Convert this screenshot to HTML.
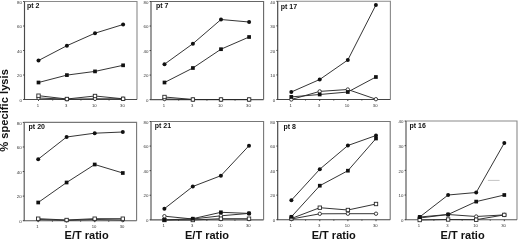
<!DOCTYPE html>
<html><head><meta charset="utf-8"><style>
html,body{margin:0;padding:0;background:#fff;}
body{width:520px;height:241px;overflow:hidden;}
svg{display:block;will-change:transform;}
text{font-family:"Liberation Sans",sans-serif;}
.box{fill:none;stroke-width:1.1;}
.ax{fill:none;stroke-width:1.15;}
.tk{fill:none;stroke:#333;stroke-width:0.9;}
.yl{font-size:4.4px;fill:#333;text-anchor:end;}
.xl{font-size:4.2px;fill:#333;text-anchor:middle;}
.ln{fill:none;stroke:#2a2a2a;stroke-width:0.95;}
.fc{fill:#111;}
.fs{fill:#111;}
.oc{fill:#fff;stroke:#2a2a2a;stroke-width:0.9;}
.os{fill:#fff;stroke:#2a2a2a;stroke-width:0.9;}
.tt{font-size:7px;font-weight:bold;fill:#111;}
.et{font-size:11px;font-weight:bold;fill:#111;}
.yt{font-size:11.2px;font-weight:bold;fill:#111;}
</style></head><body>
<svg width="520" height="241" viewBox="0 0 520 241">
<path d="M24.5 1.5H137V99.5" class="box" stroke="#8a8a8a"/>
<path d="M24.5 1.5V99.5H137" class="ax" stroke="#4a4a4a"/>
<path d="M23.1 99.5H24.5" class="tk"/>
<text x="21.9" y="101.7" class="yl">0</text>
<path d="M23.1 75H24.5" class="tk"/>
<text x="21.9" y="77.2" class="yl">20</text>
<path d="M23.1 50.5H24.5" class="tk"/>
<text x="21.9" y="52.7" class="yl">40</text>
<path d="M23.1 26H24.5" class="tk"/>
<text x="21.9" y="28.2" class="yl">60</text>
<path d="M23.1 1.5H24.5" class="tk"/>
<text x="21.9" y="3.7" class="yl">80</text>
<path d="M38.5 99.5V101" class="tk"/>
<text x="37.8" y="107.1" class="xl">1</text>
<path d="M66.9 99.5V101" class="tk"/>
<text x="66.2" y="107.1" class="xl">3</text>
<path d="M95 99.5V101" class="tk"/>
<text x="94.3" y="107.1" class="xl">10</text>
<path d="M123.1 99.5V101" class="tk"/>
<text x="122.4" y="107.1" class="xl">30</text>
<path d="M52.7 99.5V100.5" class="tk"/>
<path d="M80.95 99.5V100.5" class="tk"/>
<path d="M109.05 99.5V100.5" class="tk"/>
<path d="M38.5 98 L66.9 99.2 L95 98.8 L123.1 98.8" class="ln"/>
<path d="M38.5 95.7 L66.9 99 L95 96 L123.1 98.8" class="ln"/>
<path d="M38.5 82.5 L66.9 75.1 L95 71.4 L123.1 65.3" class="ln"/>
<path d="M38.5 60.5 L66.9 45.7 L95 33.2 L123.1 24.5" class="ln"/>
<circle cx="38.5" cy="98" r="1.7" class="oc"/>
<circle cx="66.9" cy="99.2" r="1.7" class="oc"/>
<circle cx="95" cy="98.8" r="1.7" class="oc"/>
<circle cx="123.1" cy="98.8" r="1.7" class="oc"/>
<rect x="36.8" y="94" width="3.4" height="3.4" class="os"/>
<rect x="65.2" y="97.3" width="3.4" height="3.4" class="os"/>
<rect x="93.3" y="94.3" width="3.4" height="3.4" class="os"/>
<rect x="121.4" y="97.1" width="3.4" height="3.4" class="os"/>
<rect x="36.65" y="80.65" width="3.7" height="3.7" class="fs"/>
<rect x="65.05" y="73.25" width="3.7" height="3.7" class="fs"/>
<rect x="93.15" y="69.55" width="3.7" height="3.7" class="fs"/>
<rect x="121.25" y="63.45" width="3.7" height="3.7" class="fs"/>
<circle cx="38.5" cy="60.5" r="2.0" class="fc"/>
<circle cx="66.9" cy="45.7" r="2.0" class="fc"/>
<circle cx="95" cy="33.2" r="2.0" class="fc"/>
<circle cx="123.1" cy="24.5" r="2.0" class="fc"/>
<text x="26.9" y="8.4" class="tt">pt 2</text>
<path d="M151 1.5H263.6V99.6" class="box" stroke="#666"/>
<path d="M151 1.5V99.6H263.6" class="ax" stroke="#555"/>
<path d="M149.6 99.6H151" class="tk"/>
<text x="148.4" y="101.8" class="yl">0</text>
<path d="M149.6 75.07H151" class="tk"/>
<text x="148.4" y="77.27" class="yl">20</text>
<path d="M149.6 50.55H151" class="tk"/>
<text x="148.4" y="52.75" class="yl">40</text>
<path d="M149.6 26.02H151" class="tk"/>
<text x="148.4" y="28.22" class="yl">60</text>
<path d="M149.6 1.5H151" class="tk"/>
<text x="148.4" y="3.7" class="yl">80</text>
<path d="M164.5 99.6V101.1" class="tk"/>
<text x="163.8" y="107.2" class="xl">1</text>
<path d="M192.9 99.6V101.1" class="tk"/>
<text x="192.2" y="107.2" class="xl">3</text>
<path d="M221 99.6V101.1" class="tk"/>
<text x="220.3" y="107.2" class="xl">10</text>
<path d="M249.1 99.6V101.1" class="tk"/>
<text x="248.4" y="107.2" class="xl">30</text>
<path d="M178.7 99.6V100.6" class="tk"/>
<path d="M206.95 99.6V100.6" class="tk"/>
<path d="M235.05 99.6V100.6" class="tk"/>
<path d="M164.5 99 L192.9 99.5 L221 99.5 L249.1 99.5" class="ln"/>
<path d="M164.5 97 L192.9 99.5 L221 99.5 L249.1 99.5" class="ln"/>
<path d="M164.5 82.5 L192.9 68 L221 49.2 L249.1 37" class="ln"/>
<path d="M164.5 64.2 L192.9 43.7 L221 19.5 L249.1 22" class="ln"/>
<circle cx="164.5" cy="99" r="1.7" class="oc"/>
<circle cx="192.9" cy="99.5" r="1.7" class="oc"/>
<circle cx="221" cy="99.5" r="1.7" class="oc"/>
<circle cx="249.1" cy="99.5" r="1.7" class="oc"/>
<rect x="162.8" y="95.3" width="3.4" height="3.4" class="os"/>
<rect x="191.2" y="97.8" width="3.4" height="3.4" class="os"/>
<rect x="219.3" y="97.8" width="3.4" height="3.4" class="os"/>
<rect x="247.4" y="97.8" width="3.4" height="3.4" class="os"/>
<rect x="162.65" y="80.65" width="3.7" height="3.7" class="fs"/>
<rect x="191.05" y="66.15" width="3.7" height="3.7" class="fs"/>
<rect x="219.15" y="47.35" width="3.7" height="3.7" class="fs"/>
<rect x="247.25" y="35.15" width="3.7" height="3.7" class="fs"/>
<circle cx="164.5" cy="64.2" r="2.0" class="fc"/>
<circle cx="192.9" cy="43.7" r="2.0" class="fc"/>
<circle cx="221" cy="19.5" r="2.0" class="fc"/>
<circle cx="249.1" cy="22" r="2.0" class="fc"/>
<text x="155.9" y="8.2" class="tt">pt 7</text>
<path d="M277.7 1.3H390.4V99.5" class="box" stroke="#8a8a8a"/>
<path d="M277.7 1.3V99.5H390.4" class="ax" stroke="#444"/>
<path d="M276.3 99.5H277.7" class="tk"/>
<text x="275.1" y="101.7" class="yl">0</text>
<path d="M276.3 74.95H277.7" class="tk"/>
<text x="275.1" y="77.15" class="yl">10</text>
<path d="M276.3 50.4H277.7" class="tk"/>
<text x="275.1" y="52.6" class="yl">20</text>
<path d="M276.3 25.85H277.7" class="tk"/>
<text x="275.1" y="28.05" class="yl">30</text>
<path d="M276.3 1.3H277.7" class="tk"/>
<text x="275.1" y="3.5" class="yl">40</text>
<path d="M291.3 99.5V101" class="tk"/>
<text x="290.6" y="107.1" class="xl">1</text>
<path d="M319.7 99.5V101" class="tk"/>
<text x="319" y="107.1" class="xl">3</text>
<path d="M347.8 99.5V101" class="tk"/>
<text x="347.1" y="107.1" class="xl">10</text>
<path d="M375.9 99.5V101" class="tk"/>
<text x="375.2" y="107.1" class="xl">30</text>
<path d="M305.5 99.5V100.5" class="tk"/>
<path d="M333.75 99.5V100.5" class="tk"/>
<path d="M361.85 99.5V100.5" class="tk"/>
<path d="M291.3 99.5 L319.7 91.4 L347.8 89.5 L375.9 99.2" class="ln"/>
<path d="M291.3 96.9 L319.7 94.5 L347.8 92 L375.9 77" class="ln"/>
<path d="M291.3 92 L319.7 79.5 L347.8 60 L375.9 5" class="ln"/>
<circle cx="291.3" cy="99.5" r="1.7" class="oc"/>
<circle cx="319.7" cy="91.4" r="1.7" class="oc"/>
<circle cx="347.8" cy="89.5" r="1.7" class="oc"/>
<circle cx="375.9" cy="99.2" r="1.7" class="oc"/>
<rect x="289.45" y="95.05" width="3.7" height="3.7" class="fs"/>
<rect x="317.85" y="92.65" width="3.7" height="3.7" class="fs"/>
<rect x="345.95" y="90.15" width="3.7" height="3.7" class="fs"/>
<rect x="374.05" y="75.15" width="3.7" height="3.7" class="fs"/>
<circle cx="291.3" cy="92" r="2.0" class="fc"/>
<circle cx="319.7" cy="79.5" r="2.0" class="fc"/>
<circle cx="347.8" cy="60" r="2.0" class="fc"/>
<circle cx="375.9" cy="5" r="2.0" class="fc"/>
<text x="280.7" y="8.5" class="tt">pt 17</text>
<path d="M24.2 122.4H136.6V220.7" class="box" stroke="#777"/>
<path d="M24.2 122.4V220.7H136.6" class="ax" stroke="#555"/>
<path d="M22.8 220.7H24.2" class="tk"/>
<text x="21.6" y="222.9" class="yl">0</text>
<path d="M22.8 196.12H24.2" class="tk"/>
<text x="21.6" y="198.32" class="yl">20</text>
<path d="M22.8 171.55H24.2" class="tk"/>
<text x="21.6" y="173.75" class="yl">40</text>
<path d="M22.8 146.97H24.2" class="tk"/>
<text x="21.6" y="149.17" class="yl">60</text>
<path d="M22.8 122.4H24.2" class="tk"/>
<text x="21.6" y="124.6" class="yl">80</text>
<path d="M38.2 220.7V222.2" class="tk"/>
<text x="37.5" y="228.3" class="xl">1</text>
<path d="M66.6 220.7V222.2" class="tk"/>
<text x="65.9" y="228.3" class="xl">3</text>
<path d="M94.7 220.7V222.2" class="tk"/>
<text x="94" y="228.3" class="xl">10</text>
<path d="M122.8 220.7V222.2" class="tk"/>
<text x="122.1" y="228.3" class="xl">30</text>
<path d="M52.4 220.7V221.7" class="tk"/>
<path d="M80.65 220.7V221.7" class="tk"/>
<path d="M108.75 220.7V221.7" class="tk"/>
<path d="M38.2 219.5 L66.6 220.3 L94.7 219.5 L122.8 220" class="ln"/>
<path d="M38.2 218.7 L66.6 220 L94.7 218.7 L122.8 218.7" class="ln"/>
<path d="M38.2 202.5 L66.6 182.5 L94.7 164.5 L122.8 173" class="ln"/>
<path d="M38.2 159.2 L66.6 137 L94.7 133.2 L122.8 132" class="ln"/>
<circle cx="38.2" cy="219.5" r="1.7" class="oc"/>
<circle cx="66.6" cy="220.3" r="1.7" class="oc"/>
<circle cx="94.7" cy="219.5" r="1.7" class="oc"/>
<circle cx="122.8" cy="220" r="1.7" class="oc"/>
<rect x="36.5" y="217" width="3.4" height="3.4" class="os"/>
<rect x="64.9" y="218.3" width="3.4" height="3.4" class="os"/>
<rect x="93" y="217" width="3.4" height="3.4" class="os"/>
<rect x="121.1" y="217" width="3.4" height="3.4" class="os"/>
<rect x="36.35" y="200.65" width="3.7" height="3.7" class="fs"/>
<rect x="64.75" y="180.65" width="3.7" height="3.7" class="fs"/>
<rect x="92.85" y="162.65" width="3.7" height="3.7" class="fs"/>
<rect x="120.95" y="171.15" width="3.7" height="3.7" class="fs"/>
<circle cx="38.2" cy="159.2" r="2.0" class="fc"/>
<circle cx="66.6" cy="137" r="2.0" class="fc"/>
<circle cx="94.7" cy="133.2" r="2.0" class="fc"/>
<circle cx="122.8" cy="132" r="2.0" class="fc"/>
<text x="28.6" y="129" class="tt">pt 20</text>
<path d="M151 121.5H263.6V219.8" class="box" stroke="#777"/>
<path d="M151 121.5V219.8H263.6" class="ax" stroke="#555"/>
<path d="M149.6 219.8H151" class="tk"/>
<text x="148.4" y="222" class="yl">0</text>
<path d="M149.6 195.23H151" class="tk"/>
<text x="148.4" y="197.43" class="yl">20</text>
<path d="M149.6 170.65H151" class="tk"/>
<text x="148.4" y="172.85" class="yl">40</text>
<path d="M149.6 146.07H151" class="tk"/>
<text x="148.4" y="148.27" class="yl">60</text>
<path d="M149.6 121.5H151" class="tk"/>
<text x="148.4" y="123.7" class="yl">80</text>
<path d="M164.4 219.8V221.3" class="tk"/>
<text x="163.7" y="227.4" class="xl">1</text>
<path d="M192.8 219.8V221.3" class="tk"/>
<text x="192.1" y="227.4" class="xl">3</text>
<path d="M220.9 219.8V221.3" class="tk"/>
<text x="220.2" y="227.4" class="xl">10</text>
<path d="M249 219.8V221.3" class="tk"/>
<text x="248.3" y="227.4" class="xl">30</text>
<path d="M178.6 219.8V220.8" class="tk"/>
<path d="M206.85 219.8V220.8" class="tk"/>
<path d="M234.95 219.8V220.8" class="tk"/>
<path d="M164.4 216.2 L192.8 219 L220.9 215.8 L249 213.4" class="ln"/>
<path d="M164.4 220 L192.8 220 L220.9 218.7 L249 218.7" class="ln"/>
<path d="M164.4 220 L192.8 218.7 L220.9 212.3 L249 213.4" class="ln"/>
<path d="M164.4 208.7 L192.8 186.5 L220.9 175.7 L249 145.7" class="ln"/>
<circle cx="164.4" cy="216.2" r="1.7" class="oc"/>
<circle cx="192.8" cy="219" r="1.7" class="oc"/>
<circle cx="220.9" cy="215.8" r="1.7" class="oc"/>
<circle cx="249" cy="213.4" r="1.7" class="oc"/>
<rect x="162.7" y="218.3" width="3.4" height="3.4" class="os"/>
<rect x="191.1" y="218.3" width="3.4" height="3.4" class="os"/>
<rect x="219.2" y="217" width="3.4" height="3.4" class="os"/>
<rect x="247.3" y="217" width="3.4" height="3.4" class="os"/>
<rect x="162.55" y="218.15" width="3.7" height="3.7" class="fs"/>
<rect x="190.95" y="216.85" width="3.7" height="3.7" class="fs"/>
<rect x="219.05" y="210.45" width="3.7" height="3.7" class="fs"/>
<rect x="247.15" y="211.55" width="3.7" height="3.7" class="fs"/>
<circle cx="164.4" cy="208.7" r="2.0" class="fc"/>
<circle cx="192.8" cy="186.5" r="2.0" class="fc"/>
<circle cx="220.9" cy="175.7" r="2.0" class="fc"/>
<circle cx="249" cy="145.7" r="2.0" class="fc"/>
<text x="154.8" y="127.9" class="tt">pt 21</text>
<path d="M277.7 121.5H390.2V219.7" class="box" stroke="#777"/>
<path d="M277.7 121.5V219.7H390.2" class="ax" stroke="#444"/>
<path d="M276.3 219.7H277.7" class="tk"/>
<text x="275.1" y="221.9" class="yl">0</text>
<path d="M276.3 195.15H277.7" class="tk"/>
<text x="275.1" y="197.35" class="yl">20</text>
<path d="M276.3 170.6H277.7" class="tk"/>
<text x="275.1" y="172.8" class="yl">40</text>
<path d="M276.3 146.05H277.7" class="tk"/>
<text x="275.1" y="148.25" class="yl">60</text>
<path d="M276.3 121.5H277.7" class="tk"/>
<text x="275.1" y="123.7" class="yl">80</text>
<path d="M291.4 219.7V221.2" class="tk"/>
<text x="290.7" y="227.3" class="xl">1</text>
<path d="M319.8 219.7V221.2" class="tk"/>
<text x="319.1" y="227.3" class="xl">3</text>
<path d="M347.9 219.7V221.2" class="tk"/>
<text x="347.2" y="227.3" class="xl">10</text>
<path d="M376 219.7V221.2" class="tk"/>
<text x="375.3" y="227.3" class="xl">30</text>
<path d="M305.6 219.7V220.7" class="tk"/>
<path d="M333.85 219.7V220.7" class="tk"/>
<path d="M361.95 219.7V220.7" class="tk"/>
<path d="M291.4 219 L319.8 213.8 L347.9 213.7 L376 213.7" class="ln"/>
<path d="M291.4 218.5 L319.8 207.7 L347.9 210 L376 204" class="ln"/>
<path d="M291.4 216.8 L319.8 185.7 L347.9 170.7 L376 138.5" class="ln"/>
<path d="M291.4 200.2 L319.8 169.2 L347.9 145.5 L376 135.5" class="ln"/>
<circle cx="291.4" cy="219" r="1.7" class="oc"/>
<circle cx="319.8" cy="213.8" r="1.7" class="oc"/>
<circle cx="347.9" cy="213.7" r="1.7" class="oc"/>
<circle cx="376" cy="213.7" r="1.7" class="oc"/>
<rect x="289.7" y="216.8" width="3.4" height="3.4" class="os"/>
<rect x="318.1" y="206" width="3.4" height="3.4" class="os"/>
<rect x="346.2" y="208.3" width="3.4" height="3.4" class="os"/>
<rect x="374.3" y="202.3" width="3.4" height="3.4" class="os"/>
<rect x="289.55" y="214.95" width="3.7" height="3.7" class="fs"/>
<rect x="317.95" y="183.85" width="3.7" height="3.7" class="fs"/>
<rect x="346.05" y="168.85" width="3.7" height="3.7" class="fs"/>
<rect x="374.15" y="136.65" width="3.7" height="3.7" class="fs"/>
<circle cx="291.4" cy="200.2" r="2.0" class="fc"/>
<circle cx="319.8" cy="169.2" r="2.0" class="fc"/>
<circle cx="347.9" cy="145.5" r="2.0" class="fc"/>
<circle cx="376" cy="135.5" r="2.0" class="fc"/>
<text x="283.5" y="128.7" class="tt">pt 8</text>
<path d="M406 121H517V219.7" class="box" stroke="#8a8a8a"/>
<path d="M406 121V219.7H517" class="ax" stroke="#555"/>
<path d="M404.6 219.7H406" class="tk"/>
<text x="403.4" y="221.9" class="yl">0</text>
<path d="M404.6 195.02H406" class="tk"/>
<text x="403.4" y="197.22" class="yl">10</text>
<path d="M404.6 170.35H406" class="tk"/>
<text x="403.4" y="172.55" class="yl">20</text>
<path d="M404.6 145.68H406" class="tk"/>
<text x="403.4" y="147.88" class="yl">30</text>
<path d="M404.6 121H406" class="tk"/>
<text x="403.4" y="123.2" class="yl">40</text>
<path d="M419.7 219.7V221.2" class="tk"/>
<text x="419" y="227.3" class="xl">1</text>
<path d="M448.1 219.7V221.2" class="tk"/>
<text x="447.4" y="227.3" class="xl">3</text>
<path d="M476.2 219.7V221.2" class="tk"/>
<text x="475.5" y="227.3" class="xl">10</text>
<path d="M504.3 219.7V221.2" class="tk"/>
<text x="503.6" y="227.3" class="xl">30</text>
<path d="M433.9 219.7V220.7" class="tk"/>
<path d="M462.15 219.7V220.7" class="tk"/>
<path d="M490.25 219.7V220.7" class="tk"/>
<path d="M419.7 218 L448.1 214.5 L476.2 216.5 L504.3 214.9" class="ln"/>
<path d="M419.7 220 L448.1 219.5 L476.2 219.7 L504.3 214.9" class="ln"/>
<path d="M419.7 217 L448.1 214.5 L476.2 201.6 L504.3 195" class="ln"/>
<path d="M419.7 217 L448.1 195 L476.2 192.5 L504.3 143" class="ln"/>
<circle cx="419.7" cy="218" r="1.7" class="oc"/>
<circle cx="448.1" cy="214.5" r="1.7" class="oc"/>
<circle cx="476.2" cy="216.5" r="1.7" class="oc"/>
<circle cx="504.3" cy="214.9" r="1.7" class="oc"/>
<rect x="418" y="218.3" width="3.4" height="3.4" class="os"/>
<rect x="446.4" y="217.8" width="3.4" height="3.4" class="os"/>
<rect x="474.5" y="218" width="3.4" height="3.4" class="os"/>
<rect x="502.6" y="213.2" width="3.4" height="3.4" class="os"/>
<rect x="417.85" y="215.15" width="3.7" height="3.7" class="fs"/>
<rect x="446.25" y="212.65" width="3.7" height="3.7" class="fs"/>
<rect x="474.35" y="199.75" width="3.7" height="3.7" class="fs"/>
<rect x="502.45" y="193.15" width="3.7" height="3.7" class="fs"/>
<circle cx="419.7" cy="217" r="2.0" class="fc"/>
<circle cx="448.1" cy="195" r="2.0" class="fc"/>
<circle cx="476.2" cy="192.5" r="2.0" class="fc"/>
<circle cx="504.3" cy="143" r="2.0" class="fc"/>
<text x="409.5" y="127.7" class="tt">pt 16</text>
<text x="64.6" y="239.3" class="et">E/T ratio</text>
<text x="185" y="239.3" class="et">E/T ratio</text>
<text x="311.7" y="239.3" class="et">E/T ratio</text>
<text x="440.6" y="239.3" class="et">E/T ratio</text>
<text transform="translate(7.9 151.8) rotate(-90)" class="yt">% specific lysis</text>
<path d="M487.9 180.4H499.6" stroke="#c4c4c4" stroke-width="1" fill="none"/>
</svg>
</body></html>
